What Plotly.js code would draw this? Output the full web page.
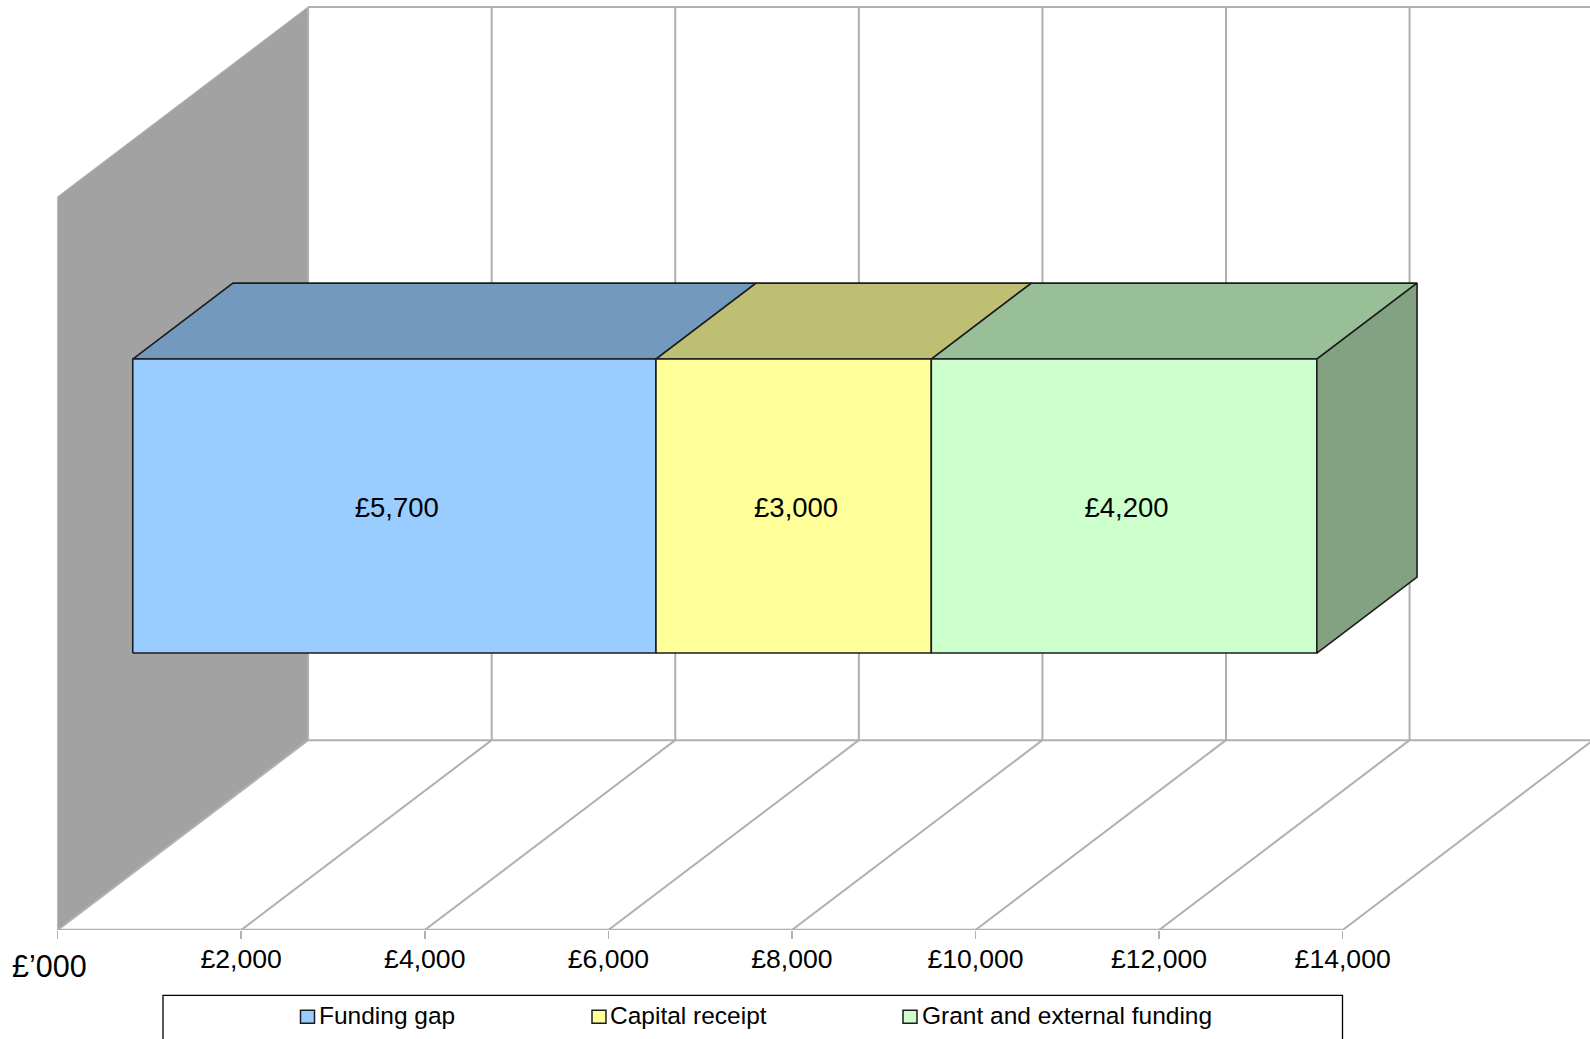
<!DOCTYPE html>
<html>
<head>
<meta charset="utf-8">
<script src="https://cdn.plot.ly/plotly-3.0.1.min.js"></script>
<style>html,body{margin:0;padding:0;background:#fff;overflow:hidden}</style>
</head>
<body>
<div id="chart" style="width:1590px;height:1039px"></div>
<script>
const seriesNames = ["Funding gap", "Capital receipt", "Grant and external funding"];
const seriesValues = [5700, 3000, 4200];
const barLabels = ["£5,700", "£3,000", "£4,200"];
const tickValues = [0, 2000, 4000, 6000, 8000, 10000, 12000, 14000];
const tickLabels = ["", "£2,000", "£4,000", "£6,000", "£8,000", "£10,000", "£12,000", "£14,000"];
const backGridValues = [0, 2000, 4000, 6000, 8000, 10000, 12000, 14000, 16000];
const unitLabel = "£’000";
const frontColours = ["#99ccff", "#ffff99", "#ccffcc"];
const topColours = ["#7399bf", "#bfbf73", "#99bf99"];
const sideColour = "#82a282";
const wallColour = "#a2a2a2";
const gridColour = "#b0b0b0";
const edgeColour = "#1c1c1c";

const W = 1590, H = 1039, AXIS_PX = 929.7, X0_PX = 57.6, PX_PER_UNIT = 0.09179, HEIGHT_PX = 733;
const xRange = [-X0_PX / PX_PER_UNIT, (W - X0_PX) / PX_PER_UNIT];
const yRange = [0, AXIS_PX / HEIGHT_PX];
const DEPTH_X = 250.5 / PX_PER_UNIT, DEPTH_Y = 189.8 / HEIGHT_PX;
const BAR_BOTTOM = 0.3, BAR_TOP = 0.701, BAR_FRONT = 0.3, BAR_BACK = 0.7;

const px = (v, d) => v + d * DEPTH_X;
const py = (h, d) => h + d * DEPTH_Y;
function poly(pts, fill, line, width) {
  const xs = pts.map(p => px(p[0], p[2])), ys = pts.map(p => py(p[1], p[2]));
  return { type: "scatter", mode: "lines", x: xs.concat(xs[0]), y: ys.concat(ys[0]), fill: "toself",
    fillcolor: fill, line: { color: line, width: width === undefined ? 1.6 : width },
    hoverinfo: "skip", showlegend: false };
}
function segments(list, width, color) {
  const xs = [], ys = [];
  list.forEach(s => { xs.push(px(s[0], s[1]), px(s[2], s[3]), null); ys.push(py(s[4], s[1]), py(s[5], s[3]), null); });
  return { type: "scatter", mode: "lines", x: xs, y: ys, line: { color: color, width: width },
    hoverinfo: "skip", showlegend: false, cliponaxis: false };
}

const traces = [];
// left wall
traces.push(poly([[0, 0, 0], [0, 1, 0], [0, 1, 1], [0, 0, 1]], wallColour, "#b5b5b5", 1));
// back wall grid, top edge and floor edge
traces.push(segments(backGridValues.map(v => [v, 1, v, 1, 0, 1]), 2, gridColour));
traces.push(segments([[0, 1, xRange[1], 1, 1, 1], [0, 1, xRange[1], 1, 0, 0]], 2, gridColour));
// floor
traces.push(segments(tickValues.map(v => [v, 0, v, 1, 0, 0]), 2, gridColour));
traces.push(segments([[0, 0, 14000, 0, 0, 0]], 2.4, gridColour));

// bars
let start = 0;
const labelX = [], labelY = [];
seriesValues.forEach((val, i) => {
  const end = start + val;
  traces.push(poly([[start, BAR_TOP, BAR_FRONT], [end, BAR_TOP, BAR_FRONT], [end, BAR_TOP, BAR_BACK], [start, BAR_TOP, BAR_BACK]], topColours[i], edgeColour));
  traces.push(poly([[start, BAR_BOTTOM, BAR_FRONT], [end, BAR_BOTTOM, BAR_FRONT], [end, BAR_TOP, BAR_FRONT], [start, BAR_TOP, BAR_FRONT]], frontColours[i], edgeColour));
  traces[traces.length - 1].name = seriesNames[i];
  labelX.push(px(start + val / 2, BAR_FRONT) + 27);
  labelY.push(py((BAR_BOTTOM + BAR_TOP) / 2, BAR_FRONT) - 0.005);
  start = end;
});
traces.push(poly([[start, BAR_BOTTOM, BAR_FRONT], [start, BAR_TOP, BAR_FRONT], [start, BAR_TOP, BAR_BACK], [start, BAR_BOTTOM, BAR_BACK]], sideColour, edgeColour));
traces.push({ type: "scatter", mode: "text", x: labelX, y: labelY, text: barLabels,
  textposition: "middle center", textfont: { family: "Liberation Sans", size: 27.5, color: "#000" },
  hoverinfo: "skip", showlegend: false });

// legend, built at paper positions
const paperX = p => p / W, paperY = p => (AXIS_PX - p) / AXIS_PX;
const swatchX = [300.5, 592, 903], textX = [318, 608.5, 921];
const shapes = [{ type: "rect", xref: "paper", yref: "paper", x0: paperX(163), x1: paperX(1342.5), y0: paperY(1060), y1: paperY(995),
  line: { color: "#000", width: 1.3 }, fillcolor: "rgba(0,0,0,0)" }];
const annotations = [{ xref: "paper", yref: "paper", x: paperX(10), y: paperY(966), xanchor: "left", yanchor: "middle",
  text: unitLabel, showarrow: false, font: { family: "Liberation Sans", size: 30.5, color: "#000" } }];
seriesNames.forEach((name, i) => {
  shapes.push({ type: "rect", xref: "paper", yref: "paper", x0: paperX(swatchX[i]), x1: paperX(swatchX[i] + 14), y0: paperY(1023), y1: paperY(1010),
    line: { color: edgeColour, width: 1.5 }, fillcolor: frontColours[i] });
  annotations.push({ xref: "paper", yref: "paper", x: paperX(textX[i]), y: paperY(1015), xanchor: "left", yanchor: "middle",
    xshift: 0, text: name, showarrow: false, borderpad: 0, font: { family: "Liberation Sans", size: 24.5, color: "#000" } });
});

const layout = {
  width: W, height: H, margin: { l: 0, r: 0, t: 0, b: H - AXIS_PX, pad: 0 },
  paper_bgcolor: "#fff", plot_bgcolor: "#fff", showlegend: false, shapes: shapes, annotations: annotations,
  xaxis: { range: xRange, tickmode: "array", tickvals: tickValues, ticktext: tickLabels, ticks: "outside", ticklen: 8,
    tickcolor: gridColour, tickwidth: 1.5, ticklabelstandoff: -3, showgrid: false, zeroline: false, showline: false, fixedrange: true, automargin: false,
    tickfont: { family: "Liberation Sans", size: 26.6, color: "#000" }, tickangle: 0 },
  yaxis: { range: yRange, visible: false, fixedrange: true, automargin: false }
};
Plotly.newPlot("chart", traces, layout, { staticPlot: true, displayModeBar: false });
</script>
</body>
</html>
